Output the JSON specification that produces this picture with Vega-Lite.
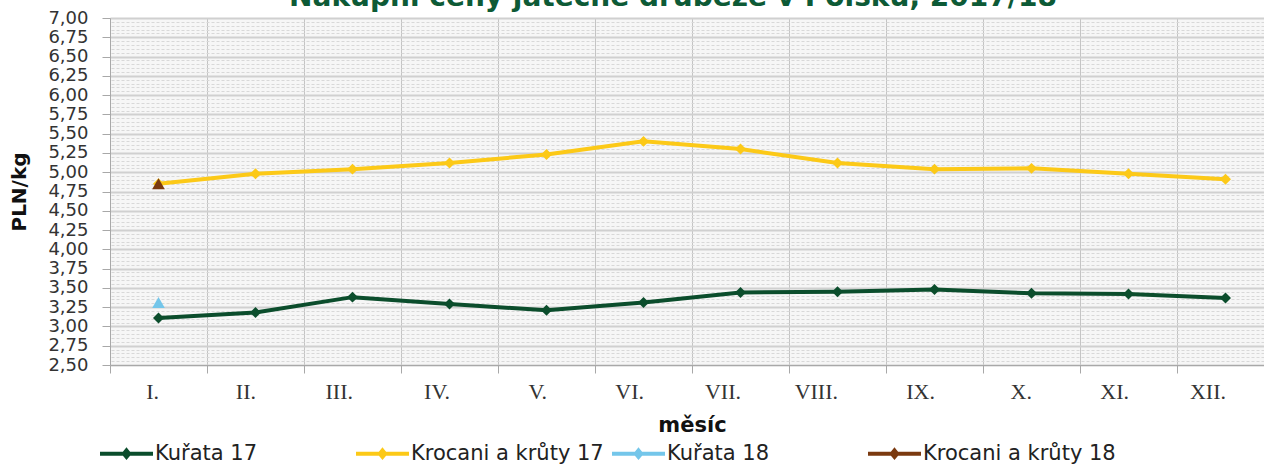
{
  "$schema": "https://vega.github.io/schema/vega-lite/v6.json",
  "width": 1164,
  "height": 347,
  "autosize": {"type": "none"},
  "padding": {"left": 110, "top": 18, "right": 0, "bottom": 99},
  "background": "white",
  "title": {
    "text": "Nákupní ceny jatečné drůbeže v Polsku, 2017/18",
    "font": "DejaVu Sans",
    "fontSize": 28,
    "fontWeight": "bold",
    "color": "#0d5a36",
    "anchor": "middle",
    "frame": "group",
    "baseline": "alphabetic",
    "offset": 0,
    "dy": 25,
    "dx": -19
  },
  "config": {"view": {"stroke": null, "fill": "#f6f6f6"}, "font": "DejaVu Sans"},
  "data": {
    "values": [
      {"month": "I.", "series": "Kuřata 17", "value": 3.11},
      {"month": "II.", "series": "Kuřata 17", "value": 3.18},
      {"month": "III.", "series": "Kuřata 17", "value": 3.38},
      {"month": "IV.", "series": "Kuřata 17", "value": 3.29},
      {"month": "V.", "series": "Kuřata 17", "value": 3.21},
      {"month": "VI.", "series": "Kuřata 17", "value": 3.31},
      {"month": "VII.", "series": "Kuřata 17", "value": 3.44},
      {"month": "VIII.", "series": "Kuřata 17", "value": 3.45},
      {"month": "IX.", "series": "Kuřata 17", "value": 3.48},
      {"month": "X.", "series": "Kuřata 17", "value": 3.43},
      {"month": "XI.", "series": "Kuřata 17", "value": 3.42},
      {"month": "XII.", "series": "Kuřata 17", "value": 3.37},
      {"month": "I.", "series": "Krocani a krůty 17", "value": 4.85},
      {"month": "II.", "series": "Krocani a krůty 17", "value": 4.98},
      {"month": "III.", "series": "Krocani a krůty 17", "value": 5.04},
      {"month": "IV.", "series": "Krocani a krůty 17", "value": 5.12},
      {"month": "V.", "series": "Krocani a krůty 17", "value": 5.23},
      {"month": "VI.", "series": "Krocani a krůty 17", "value": 5.40},
      {"month": "VII.", "series": "Krocani a krůty 17", "value": 5.30},
      {"month": "VIII.", "series": "Krocani a krůty 17", "value": 5.12},
      {"month": "IX.", "series": "Krocani a krůty 17", "value": 5.04},
      {"month": "X.", "series": "Krocani a krůty 17", "value": 5.05},
      {"month": "XI.", "series": "Krocani a krůty 17", "value": 4.98},
      {"month": "XII.", "series": "Krocani a krůty 17", "value": 4.91},
      {"month": "I.", "series": "Kuřata 18", "value": 3.31},
      {"month": "I.", "series": "Krocani a krůty 18", "value": 4.85}
    ]
  },
  "layer": [
    {
      "mark": {"type": "line", "opacity": 0},
      "encoding": {
        "x": {"field": "month", "type": "nominal", "sort": ["I.", "II.", "III.", "IV.", "V.", "VI.", "VII.", "VIII.", "IX.", "X.", "XI.", "XII."], "scale": {"type": "band", "paddingInner": 0, "paddingOuter": 0}},
        "y": {
          "field": "value", "type": "quantitative",
          "scale": {"domain": [2.5, 7], "nice": false, "zero": false},
          "axis": {
            "orient": "right", "title": null, "labels": false, "ticks": false, "domain": false,
            "grid": true, "gridDash": [3, 2], "gridColor": "#d8d8d8", "gridWidth": 1,
            "values": [2.55,2.6,2.65,2.7,2.8,2.85,2.9,2.95,3.05,3.1,3.15,3.2,3.3,3.35,3.4,3.45,3.55,3.6,3.65,3.7,3.8,3.85,3.9,3.95,4.05,4.1,4.15,4.2,4.3,4.35,4.4,4.45,4.55,4.6,4.65,4.7,4.8,4.85,4.9,4.95,5.05,5.1,5.15,5.2,5.3,5.35,5.4,5.45,5.55,5.6,5.65,5.7,5.8,5.85,5.9,5.95,6.05,6.1,6.15,6.2,6.3,6.35,6.4,6.45,6.55,6.6,6.65,6.7,6.8,6.85,6.9,6.95]
          }
        }
      }
    },
    {
      "encoding": {
        "x": {
          "field": "month", "type": "nominal",
          "sort": ["I.", "II.", "III.", "IV.", "V.", "VI.", "VII.", "VIII.", "IX.", "X.", "XI.", "XII."],
          "scale": {"type": "band", "paddingInner": 0, "paddingOuter": 0},
          "axis": {
            "title": "měsíc", "tickBand": "extent", "grid": true, "gridColor": "#c4c4c4", "gridWidth": 1,
            "labelFont": "Liberation Serif", "labelFontSize": 22, "labelColor": "#333333", "labelAngle": 0, "labelPadding": 18,
            "titleFont": "DejaVu Sans", "titleFontSize": 21, "titleFontWeight": "bold", "titleColor": "#111111", "titlePadding": 12,
            "tickSize": 8, "tickColor": "#a8a8a8", "domainColor": "#a8a8a8"
          }
        },
        "y": {
          "field": "value", "type": "quantitative",
          "scale": {"domain": [2.5, 7], "nice": false, "zero": false},
          "axis": {
            "title": "PLN/kg",
            "values": [2.5,2.75,3,3.25,3.5,3.75,4,4.25,4.5,4.75,5,5.25,5.5,5.75,6,6.25,6.5,6.75,7],
            "labelExpr": "replace(format(datum.value, '.2f'), '.', ',')",
            "labelOverlap": false, "labelFlush": false,
            "grid": true, "gridColor": "#d0d0d0", "gridWidth": 2,
            "labelFontSize": 18, "labelColor": "#333333", "labelPadding": 14,
            "tickSize": 8, "tickColor": "#a8a8a8", "domainColor": "#a8a8a8",
            "titleFontSize": 20, "titleFontWeight": "bold", "titleColor": "#111111", "titlePadding": 18
          }
        },
        "color": {
          "field": "series", "type": "nominal",
          "scale": {
            "domain": ["Kuřata 17", "Krocani a krůty 17", "Kuřata 18", "Krocani a krůty 18"],
            "range": ["#0b4d2c", "#fcc917", "#74c6ea", "#7b3a10"]
          },
          "legend": {
            "orient": "none", "legendX": -12, "legendY": 407, "direction": "horizontal",
            "columns": 4, "gridAlign": "all", "columnPadding": 0, "title": null,
            "symbolType": "M-1,0H1M0,-0.12L0.1,0L0,0.12L-0.1,0Z", "symbolSize": 2809, "symbolStrokeWidth": 4,
            "labelFontSize": 21, "labelColor": "#222222", "labelOffset": 0, "labelLimit": 400
          }
        }
      },
      "layer": [
        {"mark": {"type": "line", "strokeWidth": 4}},
        {
          "transform": [{"filter": "indexof(datum.series, '17') >= 0"}],
          "mark": {"type": "point", "filled": true, "opacity": 1, "shape": "diamond", "size": 120}
        },
        {
          "transform": [{"filter": "indexof(datum.series, '18') >= 0"}],
          "mark": {"type": "point", "filled": true, "opacity": 1, "shape": "triangle-up", "size": 160}
        }
      ]
    }
  ],
  "resolve": {"scale": {"y": "independent"}}
}
